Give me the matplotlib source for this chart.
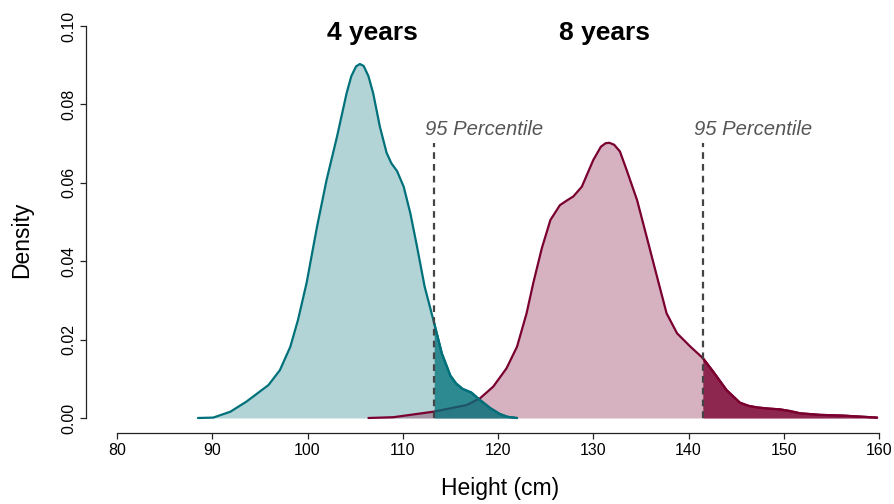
import matplotlib
matplotlib.use("Agg")
import matplotlib.pyplot as plt
import numpy as np

plt.rcParams['font.family'] = ['Liberation Sans', 'DejaVu Sans']

# Height density estimates (cm, density)
height_4y = [88.5, 90.1, 91.9, 93.6, 95.9, 97.1, 98.2, 99.0, 99.9, 101.0, 102.0,
             103.1, 104.1, 104.6, 105.1, 105.5, 105.9, 106.4, 106.9, 107.6, 108.3,
             108.8, 109.4, 110.1, 110.8, 111.5, 112.3, 113.3, 114.1, 115.0, 115.6,
             116.3, 117.2, 118.1, 119.2, 120.2, 121.0, 122.0]
density_4y = [0.0, 0.0001, 0.0016, 0.0042, 0.0084, 0.0122, 0.0182, 0.025, 0.0344,
              0.0488, 0.0607, 0.0718, 0.0828, 0.0872, 0.0897, 0.0903, 0.0898, 0.0872,
              0.0828, 0.0743, 0.0677, 0.0650, 0.0630, 0.0590, 0.0522, 0.0437, 0.0335,
              0.0242, 0.0165, 0.0108, 0.0088, 0.0074, 0.0065, 0.0046, 0.0025, 0.0010,
              0.0003, 0.0]

height_8y = [106.4, 109.0, 113.2, 116.7, 118.1, 119.5, 120.9, 122.0, 123.0, 123.7,
             124.6, 125.5, 126.5, 127.3, 127.9, 128.8, 130.0, 130.8, 131.3, 131.7,
             132.2, 132.8, 133.5, 134.6, 135.6, 136.7, 137.7, 138.8, 140.2, 141.5,
             142.6, 144.0, 145.4, 146.3, 147.2, 148.4, 149.6, 150.6, 151.7, 153.8,
             156.3, 159.8]
density_8y = [0.0, 0.0002, 0.0016, 0.0033, 0.005, 0.008, 0.0127, 0.0182, 0.0267,
              0.0344, 0.0433, 0.0505, 0.0543, 0.0556, 0.0565, 0.0590, 0.0658, 0.0692,
              0.0701, 0.0702, 0.0697, 0.0680, 0.0633, 0.0556, 0.0463, 0.036, 0.0267,
              0.0216, 0.0182, 0.0153, 0.0118, 0.0071, 0.0039, 0.0031, 0.0027, 0.0024,
              0.0022, 0.0018, 0.0012, 0.0008, 0.0006, 0.0001]

pct95_4y = 113.3
pct95_8y = 141.5

x_ticks = [80, 90, 100, 110, 120, 130, 140, 150, 160]
y_ticks = [0.00, 0.02, 0.04, 0.06, 0.08, 0.10]
y_tick_labels = ["0.00", "0.02", "0.04", "0.06", "0.08", "0.10"]

teal = "#00717A"
plum = "#7A0030"

W, H = 894, 504
fig = plt.figure(figsize=(W / 100, H / 100), dpi=100)
# axes box spans the detached axis lines
ax = fig.add_axes([86 / W, (H - 433) / H, (879 - 86) / W, (433 - 26) / H])
px_per_x = (879 - 117) / 80.0
px_per_y = (418 - 26) / 0.10
ax.set_xlim(80 - (117 - 86) / px_per_x, 160)
ax.set_ylim(-(433 - 418) / px_per_y, 0.10)

x4 = np.array(height_4y); d4 = np.array(density_4y)
x8 = np.array(height_8y); d8 = np.array(density_8y)

line_kw = dict(lw=1.6, solid_capstyle='round', solid_joinstyle='round')

# 4 years
ax.fill_between(x4, 0, d4, color=teal, alpha=0.3, lw=0, zorder=2)
ax.plot(x4, d4, color=teal, zorder=3, **line_kw)
# 8 years
ax.fill_between(x8, 0, d8, color=plum, alpha=0.3, lw=0, zorder=4)
ax.plot(x8, d8, color=plum, zorder=5, **line_kw)
# upper tails beyond the 95th percentile
tail4 = x4 >= pct95_4y
tail8 = x8 >= pct95_8y
ax.fill_between(x4, 0, d4, where=tail4, color=teal, alpha=0.75, lw=0, zorder=6)
ax.plot(x4[tail4], d4[tail4], color=teal, zorder=6, **line_kw)
ax.fill_between(x8, 0, d8, where=tail8, color=plum, alpha=0.78, lw=0, zorder=6)
ax.plot(x8[tail8], d8[tail8], color=plum, zorder=6, **line_kw)

line_top = 0.0702
for p in (pct95_4y, pct95_8y):
    ax.plot([p, p], [0, line_top], color="#444444", lw=1.6,
            linestyle=(0, (3, 2.3)), zorder=7)
    ax.text(p - 0.95, 0.0735, "95 Percentile", style='italic', fontsize=14.6,
            color="#555555", ha='left', va='center', zorder=8)

ax.text(106.8, 0.0982, "4 years", fontsize=19, fontweight='bold',
        ha='center', va='center')
ax.text(131.2, 0.0982, "8 years", fontsize=19, fontweight='bold',
        ha='center', va='center')

# R-style detached axes
for s in ('top', 'right'):
    ax.spines[s].set_visible(False)
ax.spines['left'].set_bounds(0, 0.10)
ax.spines['bottom'].set_bounds(80, 160)
for s in ('left', 'bottom'):
    ax.spines[s].set_linewidth(0.9)
    ax.spines[s].set_color("#222222")
ax.set_xticks(x_ticks)
ax.set_xticklabels([str(t) for t in x_ticks])
ax.set_yticks(y_ticks)
ax.set_yticklabels(y_tick_labels, rotation=90, va='center')
ax.tick_params(axis='both', direction='out', length=4, width=0.9,
               color="#222222", labelsize=11.5, pad=3)

fig.text(22 / W, 1 - 240 / H, "Density", rotation=90, fontsize=16.5,
         ha='center', va='center')
fig.text(500 / W, 1 - 488 / H, "Height (cm)", fontsize=16.5,
         ha='center', va='center')

fig.savefig("out.png", dpi=100)
